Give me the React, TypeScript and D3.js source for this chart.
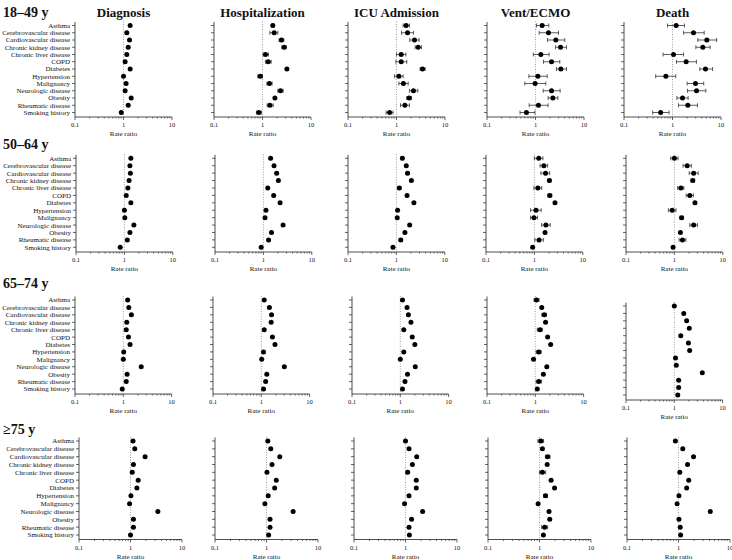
import { useRef, useEffect } from 'react';
import * as d3 from 'd3';

// [estimate] or [estimate, lower, upper]
type Est = number[];

const conditions = [
  'Asthma', 'Cerebrovascular disease', 'Cardiovascular disease', 'Chronic kidney disease',
  'Chronic liver disease', 'COPD', 'Diabetes', 'Hypertension', 'Malignancy',
  'Neurologic disease', 'Obesity', 'Rheumatic disease', 'Smoking history',
];
const outcomes = ['Diagnosis', 'Hospitalization', 'ICU Admission', 'Vent/ECMO', 'Death'];
const ageGroups = ['18–49 y', '50–64 y', '65–74 y', '≥75 y'];
const tickValues = [0.1, 1, 10];
const axisLabel = 'Rate ratio';

// 18–49 y
const diag18: Est[] = [[1.37], [1.17, 1.12, 1.22], [1.33], [1.25], [1.17], [1.08], [1.37], [1.0], [1.13], [1.08], [1.44], [1.25], [0.9]];
const hosp18: Est[] = [[1.63, 1.55, 1.72], [1.74, 1.42, 2.07], [2.46, 2.2, 2.75], [2.8, 2.5, 3.1], [1.15, 1.03, 1.33], [1.31, 1.15, 1.51], [3.18], [0.9, 0.8, 1.0], [1.39, 1.23, 1.58], [2.35, 2.07, 2.67], [1.8], [1.42, 1.25, 1.66], [0.84, 0.75, 0.95]];
const icu18: Est[] = [[1.58, 1.37, 1.85], [1.69, 1.27, 2.24], [2.35, 1.88, 2.93], [2.8, 2.42, 3.28], [1.25, 1.0, 1.56], [1.25, 0.97, 1.63], [3.44, 3.07, 3.9], [1.12, 0.91, 1.37], [1.39, 1.12, 1.74], [2.24, 1.85, 2.75], [1.82, 1.63, 2.04], [1.49, 1.21, 1.85], [0.72, 0.61, 0.85]];
const vent18: Est[] = [[1.37, 1.05, 1.88], [1.85, 1.19, 2.98], [2.63, 1.77, 4.03], [3.28, 2.58, 4.36], [1.29, 0.9, 1.91], [2.14, 1.46, 3.17], [3.33, 2.71, 4.36], [1.12, 0.73, 1.74], [0.98, 0.6, 1.63], [2.14, 1.44, 3.22], [2.28, 1.82, 2.89], [1.15, 0.74, 1.82], [0.65, 0.48, 0.97]];
const death18: Est[] = [[1.19, 0.79, 1.77], [2.71, 1.69, 4.5], [5.1, 3.33, 8.1], [4.22, 3.03, 5.98], [1.05, 0.64, 1.69], [1.91, 1.21, 3.12], [4.79, 3.66, 6.7], [0.73, 0.45, 1.17], [2.98, 2.0, 4.4], [3.13, 2.04, 4.86], [1.61, 1.23, 2.1], [2.07, 1.33, 3.28], [0.57, 0.39, 0.85]];

// 50–64 y
const diag50: Est[] = [[1.36], [1.3], [1.33], [1.25], [1.18], [1.09], [1.36], [1.0], [1.02], [1.57], [1.3], [1.15], [0.82]];
const hosp50: Est[] = [[1.41], [1.66], [1.88], [2.04], [1.23], [1.63], [2.21], [1.13], [1.08], [2.55], [1.47], [1.28], [0.9]];
const icu50: Est[] = [[1.33, 1.26, 1.4], [1.6], [1.7, 1.6, 1.82], [2.04], [1.15, 1.08, 1.23], [1.66], [2.3], [1.06], [1.04], [1.88], [1.5], [1.23, 1.14, 1.33], [0.85]];
const vent50: Est[] = [[1.23, 1.0, 1.5], [1.57, 1.31, 1.88], [1.7, 1.36, 2.07], [2.04, 1.9, 2.2], [1.18, 0.98, 1.42], [2.08, 1.9, 2.28], [2.66], [1.08, 0.83, 1.38], [0.98, 0.83, 1.16], [1.73, 1.41, 2.12], [1.66], [1.25, 1.02, 1.53], [0.92]];
const death50: Est[] = [[1.0, 0.84, 1.19], [1.84, 1.51, 2.24], [2.5, 2.02, 3.1], [2.4, 2.2, 2.6], [1.36, 1.17, 1.57], [2.08, 1.75, 2.47], [2.66], [0.9, 0.75, 1.08], [1.41, 1.3, 1.52], [2.5, 2.08, 3.0], [1.33], [1.47, 1.25, 1.73], [0.94]];

// 65–74 y
const diag65: Est[] = [[1.23], [1.3], [1.47], [1.18], [1.15], [1.28], [1.38], [1.02], [1.0], [2.35], [1.2], [1.15], [0.95]];
const hosp65: Est[] = [[1.15], [1.47], [1.63], [1.6], [1.15], [1.7], [1.92], [1.11], [1.02], [3.0], [1.3], [1.23], [1.11]];
const icu65: Est[] = [[1.11], [1.38], [1.47], [1.66], [1.18], [1.77], [2.0], [1.18], [1.0], [2.04], [1.41], [1.25], [1.11]];
const vent65: Est[] = [[1.06, 0.94, 1.2], [1.36], [1.53, 1.37, 1.7], [1.63], [1.25, 1.1, 1.4], [1.8], [2.08], [1.18, 1.04, 1.32], [0.92], [1.73], [1.47], [1.18, 1.04, 1.35], [1.1]];
const death65: Est[] = [[1.0], [1.57], [1.8], [2.04], [1.36], [1.96], [2.08], [1.06], [1.1], [3.8], [1.23], [1.23], [1.18]];

// ≥75 y
const diag75: Est[] = [[1.12], [1.21], [1.92], [1.14], [1.08], [1.41], [1.33], [1.02], [0.96], [3.4], [1.14], [1.14], [1.0]];
const hosp75: Est[] = [[1.06], [1.21], [1.81], [1.28], [1.02], [1.55], [1.44], [1.08], [0.93], [3.29], [1.17], [1.17], [1.1]];
const icu75: Est[] = [[1.0], [1.17], [1.65], [1.36], [1.1, 1.03, 1.17], [1.62], [1.62], [1.17], [0.96], [2.15], [1.31], [1.17], [1.19]];
const vent75: Est[] = [[1.06, 0.93, 1.2], [1.14], [1.44, 1.3, 1.6], [1.41], [1.14, 1.0, 1.32], [1.68], [1.96], [1.31, 1.2, 1.42], [0.94], [1.53], [1.58], [1.26, 1.1, 1.44], [1.19]];
const death75: Est[] = [[0.87], [1.21], [1.96], [1.5], [1.06, 1.0, 1.12], [1.58], [1.44], [1.02], [0.94], [4.14], [1.02], [1.08], [1.1]];

const panels: Est[][][] = [
  [diag18, hosp18, icu18, vent18, death18],
  [diag50, hosp50, icu50, vent50, death50],
  [diag65, hosp65, icu65, vent65, death65],
  [diag75, hosp75, icu75, vent75, death75],
];

const FONT = '"Liberation Serif", "Times New Roman", serif';

const ForestGrid = () => {
  const svgRef = useRef<SVGSVGElement>(null);

  useEffect(() => {
    if (!svgRef.current) return;
    const svg = d3.select(svgRef.current);
    svg.selectAll('*').remove();

    // layout of each age row
    const rows = [
      { top: 25.5, bottom: 112.5, axisY: 117, titleY: 17, x0: [75, 214, 348, 487, 624], dec: 48.5 },
      { top: 158.3, bottom: 247.3, axisY: 252, titleY: 149, x0: [76, 215, 348, 486, 626], dec: 48.4 },
      { top: 300, bottom: 389, axisY: 394, titleY: 288, x0: [75, 213, 352, 487, 626], dec: 48.3 },
      { top: 441, bottom: 535, axisY: 539.5, titleY: 434, x0: [79, 215, 354, 488, 627], dec: 51.5 },
    ];

    rows.forEach((r, ri) => {
      svg.append('text')
        .attr('x', 3).attr('y', r.titleY)
        .attr('font-family', FONT).attr('font-size', 14).attr('font-weight', 'bold')
        .attr('fill', '#111')
        .text(ageGroups[ri]);

      outcomes.forEach((outcome, ci) => {
        const dy = ri === 2 && ci === 4 ? 6 : 0;
        const x0 = r.x0[ci];
        const x = d3.scaleLog().domain([0.1, 10]).range([x0, x0 + 2 * r.dec]);
        const y = d3.scalePoint<string>().domain(conditions).range([r.top + dy, r.bottom + dy]);
        const axisY = r.axisY + dy;
        const g = svg.append('g');

        if (ri === 0) {
          svg.append('text')
            .attr('x', x(1)).attr('y', r.titleY)
            .attr('text-anchor', 'middle')
            .attr('font-family', FONT).attr('font-size', 13).attr('font-weight', 'bold')
            .attr('fill', '#111')
            .text(outcome);
        }

        // reference line at 1
        g.append('line')
          .attr('x1', x(1)).attr('x2', x(1))
          .attr('y1', r.top + dy - 4).attr('y2', axisY)
          .attr('stroke', '#888').attr('stroke-width', 0.8)
          .attr('stroke-dasharray', '1,1.5');

        // y axis
        g.append('line')
          .attr('x1', x0).attr('x2', x0)
          .attr('y1', r.top + dy - 3.5).attr('y2', axisY)
          .attr('stroke', '#222').attr('stroke-width', 0.8);
        g.selectAll('.ytick')
          .data(conditions)
          .join('line')
          .attr('x1', x0 - 3).attr('x2', x0)
          .attr('y1', d => y(d)!).attr('y2', d => y(d)!)
          .attr('stroke', '#222').attr('stroke-width', 0.7);

        if (ci === 0) {
          g.selectAll('.ylab')
            .data(conditions)
            .join('text')
            .attr('x', x0 - 5).attr('y', d => y(d)!)
            .attr('dy', '0.35em')
            .attr('text-anchor', 'end')
            .attr('font-family', FONT).attr('font-size', 7)
            .attr('fill', '#111')
            .text(d => d);
        }

        // x axis with log minor ticks
        g.append('line')
          .attr('x1', x0).attr('x2', x0 + 2 * r.dec)
          .attr('y1', axisY).attr('y2', axisY)
          .attr('stroke', '#222').attr('stroke-width', 0.8);
        const minor = d3.range(2, 10).map(m => m * 0.1).concat(d3.range(2, 10));
        g.selectAll('.minor')
          .data(minor)
          .join('line')
          .attr('x1', d => x(d)).attr('x2', d => x(d))
          .attr('y1', axisY).attr('y2', axisY + 1.6)
          .attr('stroke', '#222').attr('stroke-width', 0.6);
        g.selectAll('.major')
          .data(tickValues)
          .join('line')
          .attr('x1', d => x(d)).attr('x2', d => x(d))
          .attr('y1', axisY).attr('y2', axisY + 3)
          .attr('stroke', '#222').attr('stroke-width', 0.7);
        g.selectAll('.tlab')
          .data(tickValues)
          .join('text')
          .attr('x', d => x(d)).attr('y', axisY + 10)
          .attr('text-anchor', 'middle')
          .attr('font-family', FONT).attr('font-size', 6.5)
          .attr('fill', '#111')
          .text(d => String(d));
        g.append('text')
          .attr('x', x(1)).attr('y', axisY + 19)
          .attr('text-anchor', 'middle')
          .attr('font-family', FONT).attr('font-size', 7)
          .attr('fill', '#111')
          .text(axisLabel);

        // estimates and intervals
        const data = panels[ri][ci].map((e, i) => ({ name: conditions[i], est: e[0], lo: e[1], hi: e[2] }));
        const withCI = data.filter(d => d.lo != null && d.hi != null);
        g.selectAll('.ci')
          .data(withCI)
          .join('line')
          .attr('x1', d => x(d.lo!)).attr('x2', d => x(d.hi!))
          .attr('y1', d => y(d.name)!).attr('y2', d => y(d.name)!)
          .attr('stroke', '#333').attr('stroke-width', 0.8);
        ['lo', 'hi'].forEach(k => {
          g.selectAll(`.cap-${k}`)
            .data(withCI)
            .join('line')
            .attr('x1', d => x((d as any)[k])).attr('x2', d => x((d as any)[k]))
            .attr('y1', d => y(d.name)! - 2).attr('y2', d => y(d.name)! + 2)
            .attr('stroke', '#333').attr('stroke-width', 0.8);
        });
        g.selectAll('.dot')
          .data(data)
          .join('circle')
          .attr('cx', d => x(d.est))
          .attr('cy', d => y(d.name)!)
          .attr('r', 2.5)
          .attr('fill', '#000');
      });
    });
  }, []);

  return (
    <svg ref={svgRef} width={732} height={560}
      style={{ position: 'absolute', left: 0, top: 0, background: '#fff' }} />
  );
};

export default function App() {
  return <ForestGrid />;
}
